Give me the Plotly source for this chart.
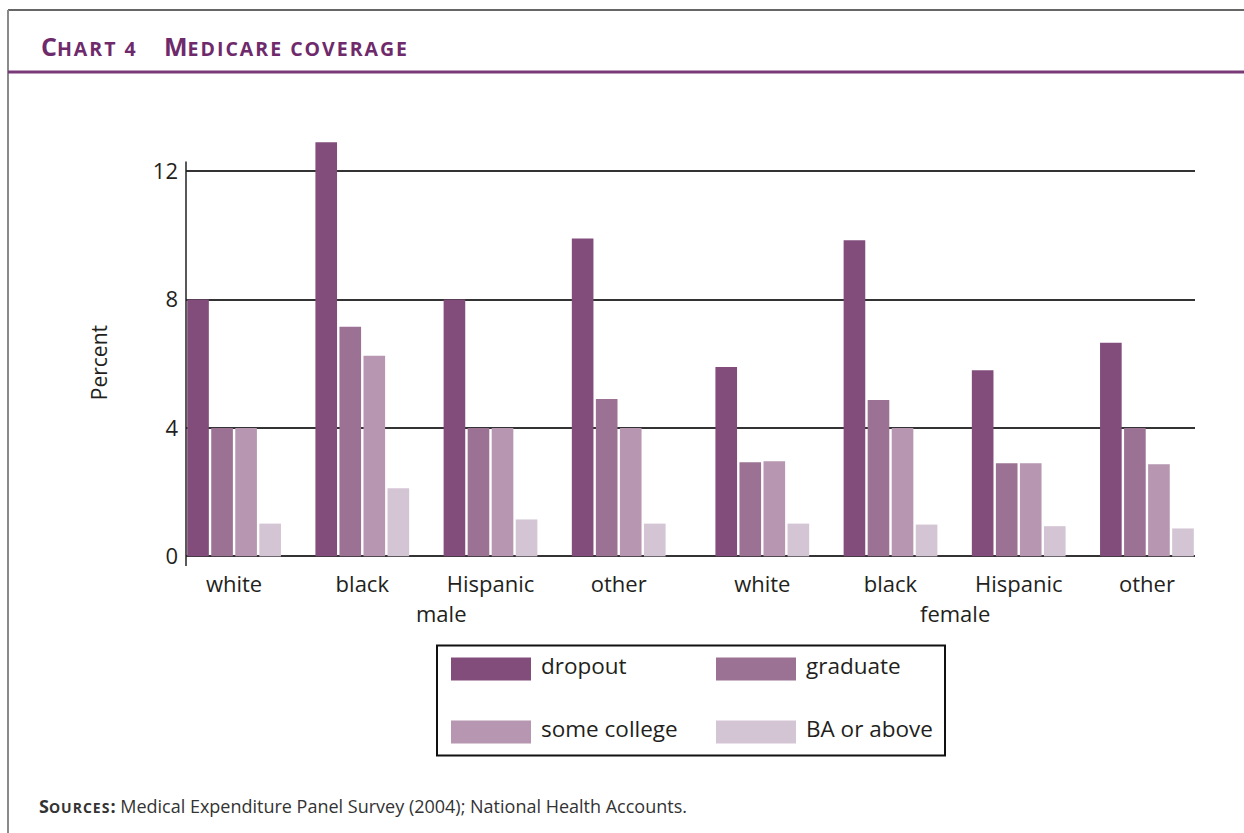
import plotly.graph_objects as go

# ---------------- data ----------------
races = ["white", "black", "Hispanic", "other"]
genders = ["male", "female"]
series_names = ["dropout", "graduate", "some college", "BA or above"]
dropout = [8.0, 12.9, 8.0, 9.9, 5.9, 9.85, 5.8, 6.65]
graduate = [4.0, 7.15, 4.0, 4.9, 2.93, 4.87, 2.9, 4.0]
some_college = [4.0, 6.25, 4.0, 4.0, 2.96, 4.0, 2.9, 2.87]
ba_or_above = [1.02, 2.12, 1.15, 1.02, 1.02, 0.99, 0.94, 0.87]
y_ticks = [0, 4, 8, 12]

colors = ["#824c7b", "#9b7293", "#b696b0", "#d4c5d5"]
series_values = [dropout, graduate, some_college, ba_or_above]

# ---------------- layout helpers ----------------
W, H = 1244, 833
L, R, T, B = 186, 1195, 139, 565.6
GROUP_GAP = 0.12
positions = [g * (4 + GROUP_GAP) + r for g in range(len(genders)) for r in range(len(races))]
tick_text = races * len(genders)


def px(x):
    return (x - L) / (R - L)


def py(y):
    return (B - y) / (B - T)


FONT = "Open Sans"
TXT = "#231f20"
PURPLE = "#6e2a6b"
SC_T = "font-size:19.5px;letter-spacing:2px"

fig = go.Figure()
for name, vals, col in zip(series_names, series_values, colors):
    fig.add_trace(go.Bar(x=positions, y=vals, name=name, marker=dict(color=col, line=dict(width=0)),
                         showlegend=False))

shapes = []
annotations = []

# y-axis line
shapes.append(dict(type="line", xref="paper", yref="y", x0=0, x1=0, y0=-0.3, y1=12.3,
                   line=dict(color="#222", width=1.5), layer="above"))
# frame: top and left border
shapes.append(dict(type="line", xref="paper", yref="paper", x0=px(8), x1=px(1244), y0=py(10), y1=py(10),
                   line=dict(color="#333", width=1.5)))
shapes.append(dict(type="line", xref="paper", yref="paper", x0=px(8), x1=px(8), y0=py(10), y1=py(833),
                   line=dict(color="#8a8a8a", width=2)))
# purple rule under title
shapes.append(dict(type="line", xref="paper", yref="paper", x0=px(8), x1=px(1244), y0=py(72), y1=py(72),
                   line=dict(color="#7a3a77", width=3)))

# title
annotations.append(dict(xref="paper", yref="paper", x=px(39), y=py(46), xanchor="left", yanchor="middle",
                        showarrow=False,
                        text=f"<b>C<span style='{SC_T}'>HART 4</span></b>",
                        font=dict(family=FONT, size=25, color=PURPLE)))
annotations.append(dict(xref="paper", yref="paper", x=px(162), y=py(46), xanchor="left", yanchor="middle",
                        showarrow=False,
                        text=f"<b>M<span style='{SC_T}'>EDICARE COVERAGE</span></b>",
                        font=dict(family=FONT, size=25, color=PURPLE)))

# gender labels
male_center = (positions[0] + positions[3]) / 2 + GROUP_GAP
female_center = (positions[4] + positions[7]) / 2
for gname, xc in zip(genders, [male_center, female_center]):
    annotations.append(dict(xref="x", yref="paper", x=xc, y=py(613), xanchor="center", yanchor="middle",
                            showarrow=False, text=gname, font=dict(family=FONT, size=22, color=TXT)))

# y title
annotations.append(dict(xref="paper", yref="paper", x=px(99), y=py(363), xanchor="center", yanchor="middle",
                        showarrow=False, text="Percent", textangle=-90,
                        font=dict(family=FONT, size=21, color=TXT)))

# legend (manual, wide swatches)
shapes.append(dict(type="rect", xref="paper", yref="paper", x0=px(437), x1=px(945), y0=py(645), y1=py(755),
                   line=dict(color="#111", width=2), fillcolor="white"))
sw_x = [451, 716]
sw_y = [657, 720]
for i, (name, col) in enumerate(zip(series_names, colors)):
    cx = sw_x[i % 2]
    cy = sw_y[i // 2]
    shapes.append(dict(type="rect", xref="paper", yref="paper", x0=px(cx), x1=px(cx + 80),
                       y0=py(cy), y1=py(cy + 23), line=dict(width=0), fillcolor=col))
    annotations.append(dict(xref="paper", yref="paper", x=px(cx + 88), y=py(cy + 8), xanchor="left",
                            yanchor="middle", showarrow=False, text=name,
                            font=dict(family=FONT, size=22.5, color=TXT)))

# sources
annotations.append(dict(xref="paper", yref="paper", x=px(37), y=py(805), xanchor="left", yanchor="middle",
                        showarrow=False,
                        text="<b>S<span style='font-size:14px;letter-spacing:1px'>OURCES</span>:</b> "
                             "Medical Expenditure Panel Survey (2004); National Health Accounts.",
                        font=dict(family=FONT, size=18, color="#333")))

fig.update_layout(
    width=W, height=H,
    margin=dict(l=L, r=W - R, t=T, b=H - B, pad=0),
    paper_bgcolor="white", plot_bgcolor="white",
    barmode="group", bargap=0.25, bargroupgap=0.1,
    showlegend=False,
    shapes=shapes, annotations=annotations,
    xaxis=dict(range=[positions[0] - 0.375, positions[-1] + 0.375], tickmode="array",
               tickvals=positions, ticktext=tick_text, showgrid=False, zeroline=False,
               showline=False, ticks="", ticklabelstandoff=3,
               tickfont=dict(family=FONT, size=22, color=TXT), fixedrange=True),
    yaxis=dict(range=[-0.3, 13.0], tickmode="array", tickvals=y_ticks, showgrid=True,
               gridcolor="#333", gridwidth=1.5, zeroline=False, showline=False, ticks="",
               ticklabelstandoff=7, tickfont=dict(family=FONT, size=22, color=TXT), fixedrange=True),
)

fig.write_html("out.html", config={"displayModeBar": False},
               post_script="document.body.style.margin='0';document.body.style.overflow='hidden';")
